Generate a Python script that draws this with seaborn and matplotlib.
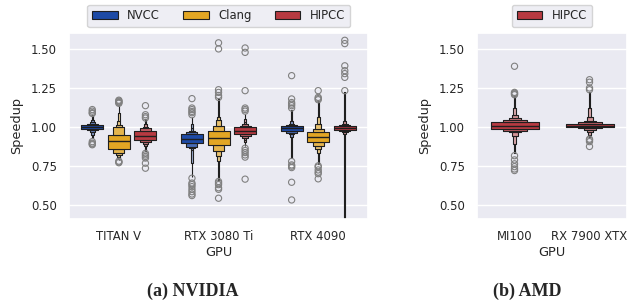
import numpy as np
import pandas as pd
import seaborn as sns
import matplotlib.pyplot as plt

# letter values: lows = 25%, 12.5%, ... (inner -> outer), highs likewise
K = 6
M = 8

nv_gpus = ["TITAN V", "RTX 3080 Ti", "RTX 4090"]
compilers = ["NVCC", "Clang", "HIPCC"]
amd_gpus = ["MI100", "RX 7900 XTX"]

titan_nvcc_med = 1.000
titan_nvcc_lows = [0.988, 0.978, 0.965, 0.950, 0.935, 0.925]
titan_nvcc_highs = [1.012, 1.020, 1.030, 1.045, 1.060, 1.075]
titan_nvcc_lo_out = [0.885, 0.890, 0.895, 0.905]
titan_nvcc_hi_out = [1.085, 1.090, 1.100, 1.110]

titan_clang_med = 0.906
titan_clang_lows = [0.860, 0.835, 0.818, 0.805, 0.795, 0.785]
titan_clang_highs = [0.950, 1.000, 1.010, 1.040, 1.090, 1.140]
titan_clang_lo_out = [0.770, 0.775, 0.780]
titan_clang_hi_out = [1.150, 1.155, 1.160, 1.165, 1.170]

titan_hipcc_med = 0.944
titan_hipcc_lows = [0.917, 0.900, 0.890, 0.875, 0.860, 0.845]
titan_hipcc_highs = [0.974, 0.990, 1.000, 1.015, 1.030, 1.050]
titan_hipcc_lo_out = [0.735, 0.767, 0.800, 0.810, 0.820, 0.830]
titan_hipcc_hi_out = [1.056, 1.065, 1.077, 1.135]

r3080_nvcc_med = 0.923
r3080_nvcc_lows = [0.895, 0.872, 0.862, 0.850, 0.770, 0.680]
r3080_nvcc_highs = [0.953, 0.965, 0.975, 0.990, 1.020, 1.060]
r3080_nvcc_lo_out = [0.560, 0.570, 0.585, 0.600, 0.617, 0.630, 0.640, 0.671]
r3080_nvcc_hi_out = [1.077, 1.090, 1.098, 1.110, 1.120, 1.180]

r3080_clang_med = 0.927
r3080_clang_lows = [0.885, 0.848, 0.810, 0.780, 0.720, 0.660]
r3080_clang_highs = [0.970, 1.008, 1.045, 1.060, 1.120, 1.180]
r3080_clang_lo_out = [0.543, 0.600, 0.610, 0.630, 0.640, 0.650]
r3080_clang_hi_out = [1.188, 1.200, 1.220, 1.237, 1.498, 1.537]

r3080_hipcc_med = 0.975
r3080_hipcc_lows = [0.953, 0.940, 0.930, 0.915, 0.900, 0.880]
r3080_hipcc_highs = [0.996, 1.005, 1.015, 1.030, 1.050, 1.080]
r3080_hipcc_lo_out = [0.665, 0.806, 0.820, 0.835, 0.848, 0.863]
r3080_hipcc_hi_out = [1.100, 1.110, 1.120, 1.231, 1.476, 1.504]

r4090_nvcc_med = 0.990
r4090_nvcc_lows = [0.975, 0.962, 0.952, 0.935, 0.870, 0.800]
r4090_nvcc_highs = [1.002, 1.010, 1.020, 1.040, 1.070, 1.110]
r4090_nvcc_lo_out = [0.532, 0.645, 0.739, 0.748, 0.756, 0.778]
r4090_nvcc_hi_out = [1.120, 1.135, 1.145, 1.155, 1.178, 1.327]

r4090_clang_med = 0.934
r4090_clang_lows = [0.900, 0.880, 0.860, 0.830, 0.800, 0.760]
r4090_clang_highs = [0.966, 0.985, 1.020, 1.060, 1.110, 1.165]
r4090_clang_lo_out = [0.667, 0.700, 0.710, 0.724, 0.742, 0.750]
r4090_clang_hi_out = [1.173, 1.180, 1.188, 1.231]

r4090_hipcc_med = 0.990
r4090_hipcc_lows = [0.981, 0.975, 0.968, 0.955, 0.700, 0.300]
r4090_hipcc_highs = [1.002, 1.010, 1.020, 1.040, 1.100, 1.220]
r4090_hipcc_lo_out = [0.100, 0.150, 0.200]
r4090_hipcc_hi_out = [1.231, 1.316, 1.340, 1.359, 1.390, 1.532, 1.553]

mi100_med = 1.006
mi100_lows = [0.987, 0.975, 0.965, 0.940, 0.890, 0.830]
mi100_highs = [1.028, 1.042, 1.056, 1.075, 1.120, 1.200]
mi100_lo_out = [0.720, 0.730, 0.745, 0.763, 0.788, 0.815]
mi100_hi_out = [1.205, 1.210, 1.215, 1.220, 1.387]

rx7900_med = 1.008
rx7900_lows = [0.998, 0.990, 0.980, 0.965, 0.950, 0.935]
rx7900_highs = [1.019, 1.028, 1.040, 1.065, 1.120, 1.220]
rx7900_lo_out = [0.874, 0.905, 0.915, 0.921]
rx7900_hi_out = [1.237, 1.248, 1.285, 1.301]

colors = {"NVCC": "#1d4aa6", "Clang": "#e2a624", "HIPCC": "#b73a41"}


def sample(med, lows, highs, lo_out, hi_out):
    # repeat each letter value so np.percentile gives back exactly the read values
    counts = [M * 2 ** (K - j) for j in range(1, K + 1)]
    lower = list(lo_out) + [lows[-1]] * (M - len(lo_out))
    for v, c in zip(lows[::-1], counts[::-1]):
        lower += [v] * c
    upper = []
    for v, c in zip(highs, counts):
        upper += [v] * c
    upper += [highs[-1]] * (M - len(hi_out)) + list(hi_out)
    return lower + [med] + upper


rows = []
def add(gpu, comp, vals):
    for v in vals:
        rows.append((gpu, comp, v))

add("TITAN V", "NVCC", sample(titan_nvcc_med, titan_nvcc_lows, titan_nvcc_highs, titan_nvcc_lo_out, titan_nvcc_hi_out))
add("TITAN V", "Clang", sample(titan_clang_med, titan_clang_lows, titan_clang_highs, titan_clang_lo_out, titan_clang_hi_out))
add("TITAN V", "HIPCC", sample(titan_hipcc_med, titan_hipcc_lows, titan_hipcc_highs, titan_hipcc_lo_out, titan_hipcc_hi_out))
add("RTX 3080 Ti", "NVCC", sample(r3080_nvcc_med, r3080_nvcc_lows, r3080_nvcc_highs, r3080_nvcc_lo_out, r3080_nvcc_hi_out))
add("RTX 3080 Ti", "Clang", sample(r3080_clang_med, r3080_clang_lows, r3080_clang_highs, r3080_clang_lo_out, r3080_clang_hi_out))
add("RTX 3080 Ti", "HIPCC", sample(r3080_hipcc_med, r3080_hipcc_lows, r3080_hipcc_highs, r3080_hipcc_lo_out, r3080_hipcc_hi_out))
add("RTX 4090", "NVCC", sample(r4090_nvcc_med, r4090_nvcc_lows, r4090_nvcc_highs, r4090_nvcc_lo_out, r4090_nvcc_hi_out))
add("RTX 4090", "Clang", sample(r4090_clang_med, r4090_clang_lows, r4090_clang_highs, r4090_clang_lo_out, r4090_clang_hi_out))
add("RTX 4090", "HIPCC", sample(r4090_hipcc_med, r4090_hipcc_lows, r4090_hipcc_highs, r4090_hipcc_lo_out, r4090_hipcc_hi_out))
df_nv = pd.DataFrame(rows, columns=["GPU", "Compiler", "Speedup"])

rows = []
add("MI100", "HIPCC", sample(mi100_med, mi100_lows, mi100_highs, mi100_lo_out, mi100_hi_out))
add("RX 7900 XTX", "HIPCC", sample(rx7900_med, rx7900_lows, rx7900_highs, rx7900_lo_out, rx7900_hi_out))
df_amd = pd.DataFrame(rows, columns=["GPU", "Compiler", "Speedup"])

sns.set_theme(style="darkgrid")
plt.rcParams["font.family"] = ["DejaVu Sans"]
fs = 8.4
lfs = 9.3

fig = plt.figure(figsize=(6.35, 3.07), dpi=100)
ax1 = fig.add_axes([0.1087, 0.2866, 0.4709, 0.606])
ax2 = fig.add_axes([0.7512, 0.2866, 0.2362, 0.606])

flier = dict(marker="o", facecolor="none", edgecolor="0.5", s=20, linewidth=0.8)

sns.boxenplot(data=df_nv, x="GPU", y="Speedup", hue="Compiler", order=nv_gpus,
              hue_order=compilers, palette=colors, saturation=1, k_depth=K,
              gap=0.17, linecolor="0.12", linewidth=0.8, flier_kws=flier, ax=ax1)
sns.boxenplot(data=df_amd, x="GPU", y="Speedup", hue="Compiler", order=amd_gpus,
              hue_order=["HIPCC"], palette=colors, saturation=1, k_depth=K,
              gap=0.2, linecolor="0.12", linewidth=0.8, flier_kws=flier, ax=ax2)

for ax in (ax1, ax2):
    ax.set_ylim(0.41, 1.6)
    ax.set_yticks([0.5, 0.75, 1.0, 1.25, 1.5])
    ax.set_yticklabels(["0.50", "0.75", "1.00", "1.25", "1.50"])
    ax.tick_params(axis="x", labelsize=fs, length=0, pad=8.0)
    ax.tick_params(axis="y", labelsize=fs, length=0, pad=8.6)
    ax.set_xlabel("GPU", fontsize=lfs, labelpad=2)
    ax.set_ylabel("Speedup", fontsize=lfs, labelpad=5.5)
    sns.move_legend(ax, "lower center", bbox_to_anchor=(0.5, 1.032), ncol=3,
                    title=None, frameon=True, fontsize=fs, handlelength=2.2,
                    columnspacing=2.0, borderaxespad=0)

fig.text(0.304, 0.052, "(a) NVIDIA", ha="center", va="center", fontsize=13,
         fontweight="bold", family="Liberation Serif")
fig.text(0.830, 0.052, "(b) AMD", ha="center", va="center", fontsize=13,
         fontweight="bold", family="Liberation Serif")

fig.savefig("out.png", dpi=100)
